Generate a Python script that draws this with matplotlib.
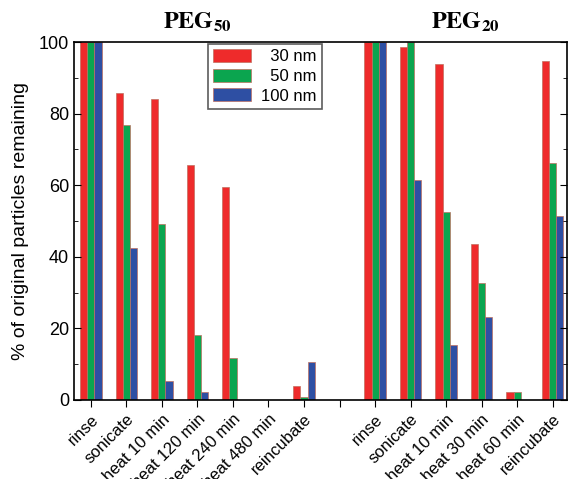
import matplotlib
matplotlib.use("Agg")
import matplotlib.pyplot as plt
import numpy as np

plt.rcParams["font.family"] = ["Liberation Sans", "DejaVu Sans"]
plt.rcParams["mathtext.fontset"] = "stix"

labels_peg50 = ["rinse", "sonicate", "heat 10 min", "heat 120 min", "heat 240 min", "heat 480 min", "reincubate"]
labels_peg20 = ["rinse", "sonicate", "heat 10 min", "heat 30 min", "heat 60 min", "reincubate"]

peg50_30nm = [100, 85.7, 84.2, 65.8, 59.6, 0, 4.0]
peg50_50nm = [100, 76.8, 49.2, 18.2, 11.6, 0, 0.7]
peg50_100nm = [100, 42.5, 5.3, 2.1, 0, 0, 10.5]

peg20_30nm = [100, 98.7, 94.0, 43.5, 2.1, 94.8]
peg20_50nm = [100, 100, 52.6, 32.8, 2.1, 66.1]
peg20_100nm = [100, 61.6, 15.5, 23.1, 0, 51.4]

series_names = ["30 nm", "50 nm", "100 nm"]
colors = ["#EE2B2B", "#0BA54F", "#2E4FA3"]

tick_labels = labels_peg50 + [""] + labels_peg20
values = [
    peg50_30nm + [0] + peg20_30nm,
    peg50_50nm + [0] + peg20_50nm,
    peg50_100nm + [0] + peg20_100nm,
]
x = np.arange(len(tick_labels))

fig = plt.figure(figsize=(5.68, 4.79), dpi=100)
ax = fig.add_axes([0.130, 0.165, 0.868, 0.747])

w = 0.2
handles = []
for i, (vals, c) in enumerate(zip(values, colors)):
    h = ax.bar(x + (i - 1) * w, vals, width=w, color=c, edgecolor="#c07060", linewidth=0.5)
    handles.append(h)

ax.set_xlim(-0.48, 13.4)
ax.set_ylim(0, 100)
ax.set_xticks(x)
ax.set_xticklabels(tick_labels, rotation=45, ha="right", rotation_mode="anchor", fontsize=12)
ax.set_yticks(np.arange(0, 101, 20))
ax.set_yticks(np.arange(0, 101, 10), minor=True)
ax.tick_params(axis="y", which="both", direction="in", right=True, labelsize=13)
ax.tick_params(axis="y", which="major", length=5)
ax.tick_params(axis="y", which="minor", length=3)
ax.tick_params(axis="x", direction="out", length=5, labelsize=12)
for s in ax.spines.values():
    s.set_linewidth(1.2)

ax.set_ylabel("% of original particles remaining", fontsize=14, labelpad=7)

ax.text(3, 102.3, r"$\mathbf{PEG_{50}}$", ha="center", va="bottom", fontsize=17.5, clip_on=False)
ax.text(10.55, 102.3, r"$\mathbf{PEG_{20}}$", ha="center", va="bottom", fontsize=17.5, clip_on=False)

leg_labels = ["\u200730 nm", "\u200750 nm", "100 nm"]
leg = ax.legend(handles, leg_labels, loc="upper left", bbox_to_anchor=(0.272, 0.995),
                fontsize=12, frameon=True, fancybox=False, edgecolor="#333333",
                handlelength=2.3, handleheight=0.85, handletextpad=0.6,
                borderpad=0.3, labelspacing=0.25, borderaxespad=0.0)
leg.get_frame().set_linewidth(1.2)

fig.savefig("out.png", dpi=100)
